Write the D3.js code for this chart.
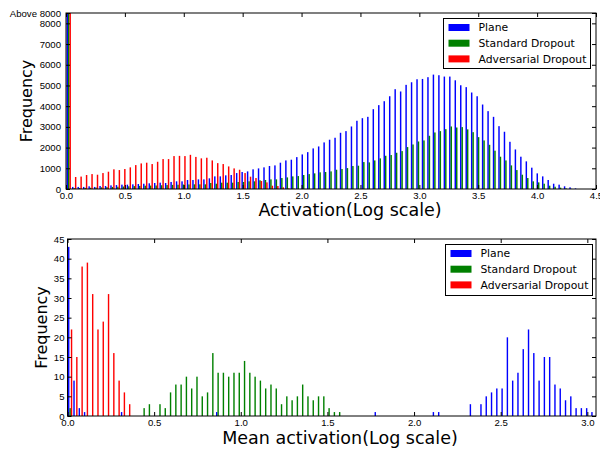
<!DOCTYPE html>
<html>
<head>
<meta charset="utf-8">
<script src="https://cdn.jsdelivr.net/npm/d3@7"></script>
<style>
body { margin: 0; background: #fff; }
svg { font-family: "DejaVu Sans", sans-serif; }
.tick text { font-size: 9.6px; fill: #000; }
.tick line { stroke: #000; }
</style>
</head>
<body>
<div id="chart"></div>
<script>
const seriesNames = ["Plane", "Standard Dropout", "Adversarial Dropout"];
const seriesColors = ["#0000ff", "#008000", "#ff0000"];

// top histogram (activation, log scale), one count per bin
const topBinWidth = 0.0464;
const topPlane = [
  9000, 100, 100, 100, 130, 100, 145, 145, 175, 190,
  210, 210, 225, 240, 255, 275, 290, 305, 290, 340,
  370, 370, 435, 435, 465, 465, 515, 610, 610, 660,
  675, 770, 820, 850, 950, 995, 1045, 1110, 1140, 1270,
  1380, 1415, 1540, 1670, 1780, 1960, 2055, 2250, 2380, 2475,
  2715, 2795, 3020, 3295, 3420, 3485, 3855, 4050, 4240, 4480,
  4820, 4710, 5030, 5155, 5300, 5315, 5400, 5525, 5495, 5430,
  5430, 5250, 5010, 4920, 4660, 4480, 4080, 3760, 3485, 3035,
  2765, 2280, 1910, 1560, 1335, 1030, 755, 610, 435, 255,
  210, 130, 80, 30, 0, 0, 0
];
const topStandard = [
  9000, 40, 50, 55, 60, 70, 80, 90, 100, 110,
  120, 130, 140, 150, 160, 165, 170, 180, 190, 200,
  205, 215, 220, 225, 225, 225, 290, 255, 305, 305,
  305, 340, 340, 370, 370, 420, 435, 465, 465, 530,
  560, 610, 625, 675, 720, 755, 805, 820, 850, 930,
  965, 1010, 1110, 1125, 1300, 1285, 1380, 1480, 1605, 1640,
  1750, 1830, 2025, 2150, 2295, 2345, 2570, 2730, 2795, 2890,
  3020, 2970, 2990, 2880, 2745, 2505, 2345, 2135, 1850, 1560,
  1380, 1140, 915, 690, 530, 370, 320, 255, 160, 110,
  65, 30, 10, 0, 0, 0, 0
];
const topAdversarial = [
  9000, 580, 600, 675, 720, 690, 770, 835, 950, 915,
  965, 1045, 1155, 1235, 1270, 1205, 1315, 1445, 1445, 1590,
  1600, 1590, 1650, 1550, 1480, 1510, 1380, 1250, 1205, 1090,
  995, 930, 770, 595, 530, 385, 320, 160, 145, 80,
  30, 15
];
const topXTicks = [0, 0.5, 1, 1.5, 2, 2.5, 3, 3.5, 4, 4.5];
const topYTicks = [0, 1000, 2000, 3000, 4000, 5000, 6000, 7000, 8000, 8500];

// bottom histogram (mean activation, log scale), 100 bins
const bottomBinWidth = 0.0305;
const bottomPlane = [
  43, 9, 2, 1, 0, 0, 0, 0, 0, 0,
  1, 0, 0, 0, 0, 0, 0, 0, 0, 0,
  0, 0, 0, 0, 0, 0, 0, 0, 1, 0,
  0, 0, 0, 0, 0, 0, 0, 0, 0, 0,
  0, 0, 0, 0, 0, 0, 0, 0, 0, 0,
  0, 0, 0, 0, 0, 0, 0, 0, 1, 0,
  0, 0, 0, 0, 0, 0, 0, 0, 0, 1,
  1, 0, 0, 0, 0, 0, 3, 0, 3, 5,
  6, 7, 7, 20, 9, 11, 17, 22, 16, 9,
  15, 15, 8, 7, 4, 5, 2, 2, 2, 1
];
const bottomStandard = [
  2, 0, 0, 0, 0, 0, 0, 0, 0, 0,
  0, 0, 0, 0, 2, 3, 0, 3, 2, 6,
  8, 8, 10, 7, 10, 5, 6, 16, 11, 11,
  10, 11, 11, 14, 11, 10, 9, 7, 8, 7,
  3, 5, 4, 5, 8, 5, 4, 5, 5, 2,
  1, 1
];
const bottomAdversarial = [
  22, 15, 38, 39, 31, 22, 24, 31, 16, 9,
  6, 3
];
const bottomXTicks = [0, 0.5, 1, 1.5, 2, 2.5, 3];
const bottomYTicks = [0, 5, 10, 15, 20, 25, 30, 35, 40, 45];

const svg = d3.select("#chart").append("svg")
    .attr("width", 600)
    .attr("height", 452);

function drawHist(cfg, id) {
    let box = cfg.box;
    let x = d3.scaleLinear().domain([0, cfg.xMax]).range([box.left, box.right]);
    let y = d3.scaleLinear().domain([0, cfg.yMax]).range([box.bottom, box.top]);
    let bw = cfg.binWidth;
    let barW = 0.8 * bw / 3;

    svg.append("clipPath").attr("id", "clip" + id)
        .append("rect")
        .attr("x", box.left).attr("y", box.top)
        .attr("width", box.right - box.left).attr("height", box.bottom - box.top);

    let g = svg.append("g").attr("clip-path", "url(#clip" + id + ")");
    cfg.series.forEach((counts, j) => {
        let bins = counts.map((c, i) => ({i: i, c: c})).filter(d => d.c > 0);
        g.selectAll(null)
            .data(bins)
            .enter()
            .append("rect")
            .attr("x", d => x(d.i * bw + 0.1 * bw + j * barW))
            .attr("width", x(barW) - x(0))
            .attr("y", d => y(Math.min(d.c, cfg.yMax)))
            .attr("height", d => box.bottom - y(Math.min(d.c, cfg.yMax)))
            .attr("fill", seriesColors[j]);
    });

    // ticks on all four sides, pointing inward
    svg.append("g").attr("transform", "translate(0," + box.bottom + ")")
        .call(d3.axisBottom(x).tickValues(cfg.xTicks).tickSize(-4).tickPadding(3)
            .tickFormat(d3.format(".1f")));
    svg.append("g").attr("transform", "translate(0," + box.top + ")")
        .call(d3.axisTop(x).tickValues(cfg.xTicks).tickSize(-4).tickFormat(""));
    svg.append("g").attr("transform", "translate(" + box.left + ",0)")
        .call(d3.axisLeft(y).tickValues(cfg.yTicks).tickSize(-4).tickPadding(cfg.yPad)
            .tickFormat(cfg.yFormat));
    svg.append("g").attr("transform", "translate(" + box.right + ",0)")
        .call(d3.axisRight(y).tickValues(cfg.yTicks).tickSize(-4).tickFormat(""));
    svg.selectAll(".domain").remove();

    svg.append("rect")
        .attr("x", box.left).attr("y", box.top)
        .attr("width", box.right - box.left).attr("height", box.bottom - box.top)
        .attr("fill", "none").attr("stroke", "#000").attr("stroke-width", 1);

    svg.append("text")
        .attr("x", cfg.xLabelX)
        .attr("y", cfg.xLabelY)
        .attr("text-anchor", "middle")
        .style("font-size", "17.5px")
        .text(cfg.xLabel);
    svg.append("text")
        .attr("transform", "translate(" + cfg.yLabelX + "," + (box.top + box.bottom) / 2 + ") rotate(-90)")
        .attr("text-anchor", "middle")
        .style("font-size", "16px")
        .text("Frequency");

    // legend
    let lg = cfg.legend;
    svg.append("rect")
        .attr("x", lg.x).attr("y", lg.y)
        .attr("width", lg.w).attr("height", lg.h)
        .attr("fill", "#fff").attr("stroke", "#000").attr("stroke-width", 1);
    seriesNames.forEach((name, j) => {
        let cy = lg.y + 9 + j * 15.7;
        svg.append("rect")
            .attr("x", lg.x + 5).attr("y", cy - 3.5)
            .attr("width", 21).attr("height", 7)
            .attr("fill", seriesColors[j]);
        svg.append("text")
            .attr("x", lg.x + 35).attr("y", cy)
            .attr("dy", "0.36em")
            .style("font-size", "10.8px")
            .text(name);
    });
}

drawHist({
    box: {left: 66, right: 596, top: 13, bottom: 189},
    xMax: 4.5, yMax: 8500, binWidth: topBinWidth,
    series: [topPlane, topStandard, topAdversarial],
    xTicks: topXTicks, yTicks: topYTicks, yPad: 5,
    yFormat: d => d === 8500 ? "Above 8000" : d,
    xLabel: "Activation(Log scale)", xLabelX: 350, xLabelY: 216, yLabelX: 32,
    legend: {x: 443.5, y: 18.5, w: 147, h: 50}
}, 0);

drawHist({
    box: {left: 67.5, right: 596, top: 239, bottom: 416},
    xMax: 3.05, yMax: 45, binWidth: bottomBinWidth,
    series: [bottomPlane, bottomStandard, bottomAdversarial],
    xTicks: bottomXTicks, yTicks: bottomYTicks, yPad: 3,
    yFormat: d => d,
    xLabel: "Mean activation(Log scale)", xLabelX: 340, xLabelY: 444, yLabelX: 46.5,
    legend: {x: 445.5, y: 244.5, w: 147, h: 51}
}, 1);
</script>
</body>
</html>
